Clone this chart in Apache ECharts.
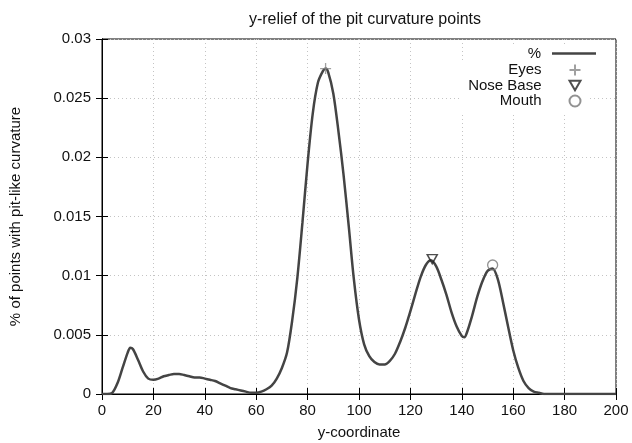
<!DOCTYPE html>
<html><head><meta charset="utf-8">
<script src="https://cdn.jsdelivr.net/npm/echarts@6/dist/echarts.min.js"></script>
<style>html,body{margin:0;padding:0;background:#fff}#c{width:632px;height:443px}</style>
</head><body><div id="c"></div>
<script>
const yCoord = [0,2,4,6,8,10,11,12,14,16,18,20,22,24,26,28,30,32,34,36,38,40,42,44,46,48,50,52,54,56,58,60,62,64,66,68,70,72,74,76,78,80,82,84,86,87,88,90,92,94,96,98,100,102,104,106,108,110,112,114,116,118,120,122,124,126,128,130,132,134,136,138,140,141,142,144,146,148,150,152,154,156,158,160,162,164,166,168,170,172,176,180,190,200];
const pct = [0,0,0.0001,0.0009,0.0022,0.0035,0.0039,0.0038,0.0029,0.0019,0.0013,0.0012,0.0013,0.0015,0.0016,0.0017,0.0017,0.0016,0.0015,0.0014,0.0014,0.0013,0.0012,0.0011,0.0009,0.0007,0.0005,0.0004,0.0003,0.0002,0.0001,0.0001,0.0002,0.0004,0.0007,0.0013,0.0022,0.0035,0.0062,0.0098,0.0145,0.0195,0.0237,0.0263,0.0273,0.0275,0.0272,0.0254,0.0222,0.0185,0.0142,0.0097,0.0063,0.0042,0.0032,0.0027,0.0025,0.0025,0.0028,0.0034,0.0044,0.0056,0.0070,0.0085,0.0099,0.0109,0.0113,0.0108,0.0097,0.0084,0.0069,0.0057,0.0049,0.0048,0.0052,0.0066,0.0082,0.0095,0.0104,0.0106,0.0097,0.0078,0.0057,0.0037,0.0022,0.0011,0.0005,0.0002,0.0001,0,0,0,0,0];
const eyes = [[87, 0.0275]];
const noseBase = [[128.5, 0.0114]];
const mouth = [[152, 0.0109]];
const xTicks = {min: 0, max: 200, interval: 20};
const yTicks = {min: 0, max: 0.03, interval: 0.005};

const chart = echarts.init(document.getElementById('c'), null, {renderer: 'canvas'});
const font = 'Liberation Sans, Arial, sans-serif';
const FS = 15;
const lineData = yCoord.map((x, i) => [x, pct[i]]);
const grid = {left: 102, right: 16, top: 39, bottom: 49, containLabel: false, outerBoundsMode: 'none',
  show: true, borderColor: '#000', borderWidth: 1, backgroundColor: 'transparent'};
const tick = {show: true, inside: true, length: 6, lineStyle: {color: '#000'}};
chart.setOption({
  animation: false,
  backgroundColor: '#fff',
  title: {text: 'y-relief of the pit curvature points', left: 360, textAlign: 'center', top: 7,
    textStyle: {fontFamily: font, fontSize: 16, fontWeight: 'normal', color: '#111'}},
  grid: grid,
  legend: [
    {data: [{name: '%', icon: 'rect'}], orient: 'vertical', right: 28, top: 44, align: 'right', itemWidth: 44, itemHeight: 2.5,
     backgroundColor: '#fff', padding: [2, 8, 2, 40],
     textStyle: {fontFamily: font, fontSize: FS, color: '#111', padding: [0, 6, 0, 0]}},
    {data: ['Eyes', 'Nose Base', 'Mouth'], orient: 'vertical', right: 43, top: 62, align: 'right', itemWidth: 11, itemHeight: 11,
     itemGap: 0, backgroundColor: '#fff', padding: [0, 6, 4, 8],
     textStyle: {fontFamily: font, fontSize: FS, color: '#111', lineHeight: 15, padding: [0, 23, 0, 0]}}
  ],
  xAxis: [
    {type: 'value', min: xTicks.min, max: xTicks.max, interval: xTicks.interval, name: 'y-coordinate', nameLocation: 'middle', nameGap: 31,
     nameTextStyle: {fontFamily: font, fontSize: FS, color: '#111'},
     axisLine: {show: true, lineStyle: {color: '#000'}}, axisTick: tick,
     axisLabel: {fontFamily: font, fontSize: FS, color: '#111', margin: 9},
     splitLine: {show: true, lineStyle: {color: '#c4c4c4', type: [1, 3], width: 1}}},
    {type: 'value', position: 'top', min: xTicks.min, max: xTicks.max, interval: xTicks.interval,
     axisLine: {show: true, lineStyle: {color: '#000'}}, axisTick: tick, axisLabel: {show: false}, splitLine: {show: false}}
  ],
  yAxis: [
    {type: 'value', min: yTicks.min, max: yTicks.max, interval: yTicks.interval, name: '% of points with pit-like curvature', nameLocation: 'middle', nameGap: 79,
     nameTextStyle: {fontFamily: font, fontSize: FS, color: '#111'},
     axisLine: {show: true, lineStyle: {color: '#000'}}, axisTick: tick,
     axisLabel: {fontFamily: font, fontSize: FS, color: '#111', margin: 11},
     splitLine: {show: true, lineStyle: {color: '#c4c4c4', type: [1, 3], width: 1}}},
    {type: 'value', position: 'right', min: yTicks.min, max: yTicks.max, interval: yTicks.interval,
     axisLine: {show: true, lineStyle: {color: '#000'}}, axisTick: tick, axisLabel: {show: false}, splitLine: {show: false}}
  ],
  series: [
    {name: '%', type: 'line', data: lineData, smooth: 0.3, symbol: 'none', z: 3,
     lineStyle: {color: '#444', width: 2.5}, itemStyle: {color: '#444'}},
    {name: 'Eyes', type: 'scatter', data: eyes, symbol: 'path://M5 0L5 10M0 5L10 5', symbolSize: 11, z: 4,
     itemStyle: {color: 'none', borderColor: '#888', borderWidth: 1.3}},
    {name: 'Nose Base', type: 'scatter', data: noseBase, symbol: 'path://M0 0L10 0L5 8.66Z', symbolSize: [10, 9], z: 4,
     itemStyle: {color: 'none', borderColor: '#222', borderWidth: 1.5}},
    {name: 'Mouth', type: 'scatter', data: mouth, symbol: 'circle', symbolSize: 10, z: 4,
     itemStyle: {color: 'none', borderColor: '#777', borderWidth: 1.3}}
  ]
});
</script></body></html>
